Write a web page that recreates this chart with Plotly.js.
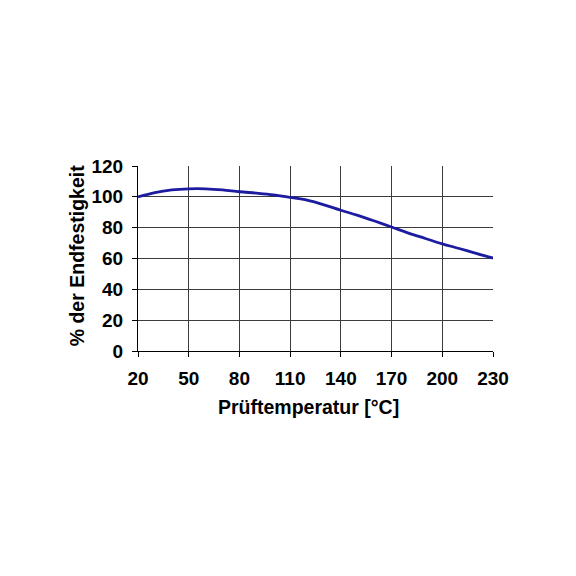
<!DOCTYPE html>
<html>
<head>
<meta charset="utf-8">
<script src="https://cdn.plot.ly/plotly-3.0.1.min.js"></script>
<style>html,body{margin:0;padding:0;background:#fff;}#chart{width:576px;height:576px;}</style>
</head>
<body>
<div id="chart"></div>
<script>
const temperatures = [20, 30, 40, 50, 60, 70, 80, 90, 100, 110, 120, 130, 140, 150, 160, 170, 180, 190, 200, 210, 220, 230];
const strengthPercent = [100, 102.8, 104.5, 105.2, 105.2, 104.5, 103.3, 102.4, 101.3, 99.6, 97.8, 94.8, 91.3, 88, 84.3, 80.4, 76.5, 73, 69.5, 66.5, 63.3, 60.3];
const xTicks = [20, 50, 80, 110, 140, 170, 200, 230];
const yTicks = [0, 20, 40, 60, 80, 100, 120];
const xTitle = 'Prüftemperatur [°C]';
const yTitle = '% der Endfestigkeit';

const fontFamily = 'Arial, "Liberation Sans", sans-serif';

const trace = {
  x: temperatures,
  y: strengthPercent,
  type: 'scatter',
  mode: 'lines',
  line: {color: 'rgb(28,28,160)', width: 2.8, shape: 'spline', smoothing: 1},
  hoverinfo: 'x+y'
};

const layout = {
  width: 576,
  height: 576,
  margin: {l: 137.5, r: 83, t: 165.7, b: 224.5, pad: 0},
  paper_bgcolor: '#ffffff',
  plot_bgcolor: '#ffffff',
  showlegend: false,
  font: {family: fontFamily, size: 19, color: '#000000', weight: 'bold'},
  xaxis: {
    range: [20, 230],
    tickvals: xTicks,
    ticktext: xTicks.map(String),
    showgrid: true,
    gridcolor: '#3c3c3c',
    gridwidth: 1,
    zeroline: false,
    showline: true,
    linecolor: '#000000',
    linewidth: 1,
    mirror: false,
    ticks: 'outside',
    ticklen: 5,
    tickcolor: '#000000',
    ticklabelstandoff: 5,
    tickfont: {family: fontFamily, size: 19, color: '#000000', weight: 'bold'},
    fixedrange: true
  },
  yaxis: {
    range: [0, 120],
    tickvals: yTicks,
    ticktext: yTicks.map(String),
    showgrid: true,
    gridcolor: '#3c3c3c',
    gridwidth: 1,
    zeroline: false,
    showline: true,
    linecolor: '#000000',
    linewidth: 1,
    ticks: 'outside',
    ticklen: 5,
    tickcolor: '#000000',
    ticklabelstandoff: 5,
    tickfont: {family: fontFamily, size: 19, color: '#000000', weight: 'bold'},
    fixedrange: true
  },
  annotations: [
    {
      text: xTitle,
      xref: 'paper', yref: 'paper',
      x: 0.479, y: -0.302,
      xanchor: 'center', yanchor: 'middle',
      showarrow: false,
      font: {family: fontFamily, size: 19.5, color: '#000000', weight: 'bold'}
    },
    {
      text: yTitle,
      xref: 'paper', yref: 'paper',
      x: -0.173, y: 0.515,
      xanchor: 'center', yanchor: 'middle',
      textangle: -90,
      showarrow: false,
      font: {family: fontFamily, size: 19.5, color: '#000000', weight: 'bold'}
    }
  ]
};

Plotly.newPlot('chart', [trace], layout, {displayModeBar: false, staticPlot: true});
</script>
</body>
</html>
